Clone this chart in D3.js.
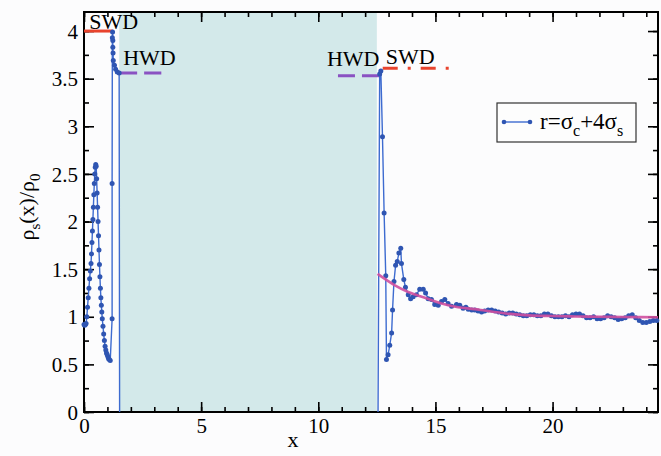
<!DOCTYPE html>
<html>
<head>
<meta charset="utf-8">
<script src="https://cdn.jsdelivr.net/npm/d3@7"></script>
<style>
  body { margin: 0; background: #fcfcfd; }
  svg { display: block; }
  text { font-family: "Liberation Serif", "DejaVu Serif", serif; }
</style>
</head>
<body>
<div id="chart"></div>
<script>
let width = 661;
let height = 456;

// left wall region, x < 1.5
let leftX = [0, 0.03, 0.06, 0.09, 0.12, 0.15, 0.18, 0.21, 0.24, 0.27, 0.30, 0.32, 0.34, 0.36, 0.38, 0.40,
    0.42, 0.44, 0.46, 0.48, 0.50, 0.52, 0.54, 0.56, 0.58, 0.60, 0.62, 0.64, 0.66, 0.68, 0.70, 0.72,
    0.74, 0.76, 0.78, 0.81, 0.84, 0.87, 0.90, 0.93, 0.96, 0.99, 1.02, 1.05, 1.08, 1.12,
    1.20, 1.20, 1.21, 1.22, 1.23, 1.23, 1.24, 1.25, 1.30, 1.35, 1.42, 1.50, 1.52];
let leftY = [0.92, 0.91, 0.92, 0.93, 1.00, 1.10, 1.20, 1.30, 1.40, 1.48, 1.56, 1.66, 1.78, 1.90, 2.02, 2.15,
    2.28, 2.40, 2.50, 2.57, 2.60, 2.58, 2.45, 2.30, 2.15, 2.00, 1.85, 1.70, 1.55, 1.42, 1.30, 1.20,
    1.12, 1.05, 0.98, 0.90, 0.82, 0.75, 0.69, 0.65, 0.62, 0.60, 0.58, 0.56, 0.55, 0.54,
    0.98, 2.40, 3.93, 3.99, 3.90, 3.83, 3.77, 3.69, 3.64, 3.60, 3.57, 3.56, 0];

// right of the slit, x > 12.5
let rightX = [12.55, 12.62, 12.67, 12.74, 12.81, 12.88, 12.91, 12.98, 13.05, 13.13, 13.17, 13.23, 13.30, 13.37,
    13.44, 13.52, 13.55, 13.65, 13.72, 13.84, 13.94, 14.05, 14.19, 14.33, 14.48, 14.58, 14.69, 14.83,
    14.97, 15.12, 15.26, 15.40, 15.54, 15.69, 15.90, 16.04, 16.18, 16.30, 16.40, 16.55, 16.68, 16.82, 16.97,
    17.10, 17.25, 17.40, 17.55, 17.70, 17.85, 18.00, 18.15, 18.30, 18.45, 18.60, 18.75, 18.90, 19.05,
    19.20, 19.35, 19.50, 19.65, 19.80, 19.95, 20.10, 20.25, 20.40, 20.55, 20.70, 20.85, 21.00, 21.15,
    21.30, 21.45, 21.60, 21.75, 21.90, 22.05, 22.20, 22.35, 22.50, 22.65, 22.80, 22.95, 23.10, 23.25,
    23.40, 23.55, 23.70, 23.85, 24.00, 24.15, 24.30, 24.45];
let rightY = [0, 3.55, 3.58, 2.89, 2.09, 1.43, 0.55, 0.60, 0.70, 0.83, 1.07, 1.37, 1.54, 1.58,
    1.67, 1.72, 1.56, 1.39, 1.31, 1.23, 1.19, 1.21, 1.23, 1.29, 1.29, 1.25, 1.19, 1.18,
    1.13, 1.12, 1.16, 1.18, 1.14, 1.11, 1.13, 1.12, 1.09, 1.10, 1.08, 1.07, 1.07, 1.06, 1.05,
    1.06, 1.07, 1.07, 1.06, 1.05, 1.04, 1.03, 1.04, 1.04, 1.03, 1.02, 1.01, 1.01, 1.02,
    1.02, 1.01, 1.01, 1.03, 1.03, 1.01, 1.00, 1.00, 1.00, 1.01, 1.00, 1.02, 1.03, 1.03,
    1.01, 0.99, 0.99, 1.00, 0.98, 0.98, 0.99, 1.01, 1.00, 0.99, 0.97, 0.98, 0.99, 1.01,
    1.02, 0.99, 0.96, 0.94, 0.94, 0.95, 0.96, 0.96];

// fitted curve (magenta)
let fitX = [12.53, 13.27, 13.84, 14.55, 15.26, 15.97, 16.68, 17.1, 18.0, 19.0, 20.0, 21.0, 22.0, 23.0, 24.5];
let fitY = [1.45, 1.33, 1.26, 1.20, 1.14, 1.10, 1.08, 1.065, 1.035, 1.015, 1.008, 1.003, 1.0, 0.998, 0.995];

let xMajor = [0, 5, 10, 15, 20];
let yMajor = [0, 0.5, 1, 1.5, 2, 2.5, 3, 3.5, 4];

let svg = d3.select("#chart")
    .append("svg")
    .attr("width", width)
    .attr("height", height);

let x = d3.scaleLinear().domain([0, 24.5]).range([84, 658]);
let y = d3.scaleLinear().domain([0, 4.2]).range([412, 12]);

// shaded slit
svg.append("rect")
    .attr("x", x(1.5))
    .attr("y", y(4.2))
    .attr("width", x(12.5) - x(1.5))
    .attr("height", y(0) - y(4.2))
    .attr("fill", "#d3e9ea");

let xMinor = d3.range(0, 25, 1);
let yMinor = d3.range(0, 4.21, 0.25);

function drawAxis(axis, tf, size, values, labels) {
    let g = svg.append("g")
        .attr("transform", tf)
        .call(axis.tickValues(values).tickSize(-size).tickPadding(6)
            .tickFormat(labels ? d3.format("") : ""));
    g.select(".domain").remove();
    g.selectAll("line").attr("stroke", "#000").attr("stroke-width", 1.6);
    g.selectAll("text").attr("font-size", 21).attr("fill", "#000")
        .attr("font-family", "Liberation Serif");
    return g;
}

drawAxis(d3.axisBottom(x), `translate(0,${y(0)})`, 5, xMinor, false);
drawAxis(d3.axisBottom(x), `translate(0,${y(0)})`, 10, xMajor, true);
drawAxis(d3.axisTop(x), `translate(0,${y(4.2)})`, 5, xMinor, false);
drawAxis(d3.axisTop(x), `translate(0,${y(4.2)})`, 10, xMajor, false);
drawAxis(d3.axisLeft(y), `translate(${x(0)},0)`, 5, yMinor, false);
drawAxis(d3.axisLeft(y), `translate(${x(0)},0)`, 10, yMajor, true)
    .selectAll("text").attr("dy", "0.34em");
drawAxis(d3.axisRight(y), `translate(${x(24.5)},0)`, 5, yMinor, false);
drawAxis(d3.axisRight(y), `translate(${x(24.5)},0)`, 10, yMajor, false);

// frame
svg.append("rect")
    .attr("x", x(0))
    .attr("y", y(4.2))
    .attr("width", x(24.5) - x(0))
    .attr("height", y(0) - y(4.2))
    .attr("fill", "none")
    .attr("stroke", "#000")
    .attr("stroke-width", 2);

// wall annotations
svg.append("line")
    .attr("x1", x(0)).attr("x2", x(1.22))
    .attr("y1", y(4)).attr("y2", y(4))
    .attr("stroke", "#e8432d").attr("stroke-width", 3);
svg.append("line")
    .attr("x1", x(1.5)).attr("x2", x(3.3))
    .attr("y1", y(3.56)).attr("y2", y(3.56))
    .attr("stroke", "#8a52c2").attr("stroke-width", 3)
    .attr("stroke-dasharray", "18,7");
svg.append("line")
    .attr("x1", x(10.84)).attr("x2", x(12.62))
    .attr("y1", y(3.53)).attr("y2", y(3.53))
    .attr("stroke", "#8a52c2").attr("stroke-width", 3)
    .attr("stroke-dasharray", "17,7");
svg.append("line")
    .attr("x1", x(12.75)).attr("x2", x(15.85))
    .attr("y1", y(3.61)).attr("y2", y(3.61))
    .attr("stroke", "#e8432d").attr("stroke-width", 3)
    .attr("stroke-dasharray", "15,10,3,10");

let labels = [
    { t: "SWD", x: 0.22, y: 4.02 },
    { t: "HWD", x: 1.67, y: 3.64 },
    { t: "HWD", x: 10.37, y: 3.63 },
    { t: "SWD", x: 12.88, y: 3.65 }
];
svg.selectAll(".ann")
    .data(labels)
    .enter()
    .append("text")
    .attr("class", "ann")
    .attr("x", d => x(d.x))
    .attr("y", d => y(d.y))
    .attr("font-size", 22)
    .text(d => d.t);

// data series
let dataLine = d3.line().x(d => x(d[0])).y(d => y(d[1]));
let series = [d3.zip(leftX, leftY), d3.zip(rightX, rightY)];
series.forEach(function (s) {
    svg.append("path")
        .datum(s)
        .attr("d", dataLine)
        .attr("fill", "none")
        .attr("stroke", "#3d6bd0")
        .attr("stroke-width", 1.4);
    svg.append("g")
        .selectAll("circle")
        .data(s.filter(d => d[1] > 0))
        .enter()
        .append("circle")
        .attr("cx", d => x(d[0]))
        .attr("cy", d => y(d[1]))
        .attr("r", 2.5)
        .attr("fill", "#2f55b2");
});

// fit curve, drawn over the data
let fitLine = d3.line()
    .x(d => x(d[0]))
    .y(d => y(d[1]))
    .curve(d3.curveMonotoneX);
svg.append("path")
    .datum(d3.zip(fitX, fitY))
    .attr("d", fitLine)
    .attr("fill", "none")
    .attr("stroke", "#cf4f9e")
    .attr("stroke-opacity", 0.9)
    .attr("stroke-width", 2.6);

// legend
let lg = svg.append("g").attr("transform", "translate(497,103)");
lg.append("rect")
    .attr("width", 139).attr("height", 39)
    .attr("fill", "#fdfdfd")
    .attr("stroke", "#333").attr("stroke-width", 1.2);
lg.append("line")
    .attr("x1", 7).attr("x2", 33).attr("y1", 19).attr("y2", 19)
    .attr("stroke", "#3d6bd0").attr("stroke-width", 1.4);
lg.selectAll("circle")
    .data([7, 33])
    .enter()
    .append("circle")
    .attr("cx", d => d).attr("cy", 19).attr("r", 2.3)
    .attr("fill", "#2f55b2");
let lt = lg.append("text").attr("x", 43).attr("y", 26).attr("font-size", 23);
lt.append("tspan").text("r=σ");
lt.append("tspan").attr("font-size", 16).attr("dy", 7).text("c");
lt.append("tspan").attr("dy", -7).text("+4σ");
lt.append("tspan").attr("font-size", 16).attr("dy", 7).text("s");

// axis titles
svg.append("text")
    .attr("x", 293)
    .attr("y", 447)
    .attr("text-anchor", "middle")
    .attr("font-size", 22)
    .text("x");

let yt = svg.append("text")
    .attr("transform", "translate(34,207) rotate(-90)")
    .attr("text-anchor", "middle")
    .attr("font-size", 22);
yt.append("tspan").text("ρ");
yt.append("tspan").attr("font-size", 15).attr("dy", 6).text("s");
yt.append("tspan").attr("dy", -6).text("(x)/ρ");
yt.append("tspan").attr("font-size", 15).attr("dy", 6).text("0");
</script>
</body>
</html>
